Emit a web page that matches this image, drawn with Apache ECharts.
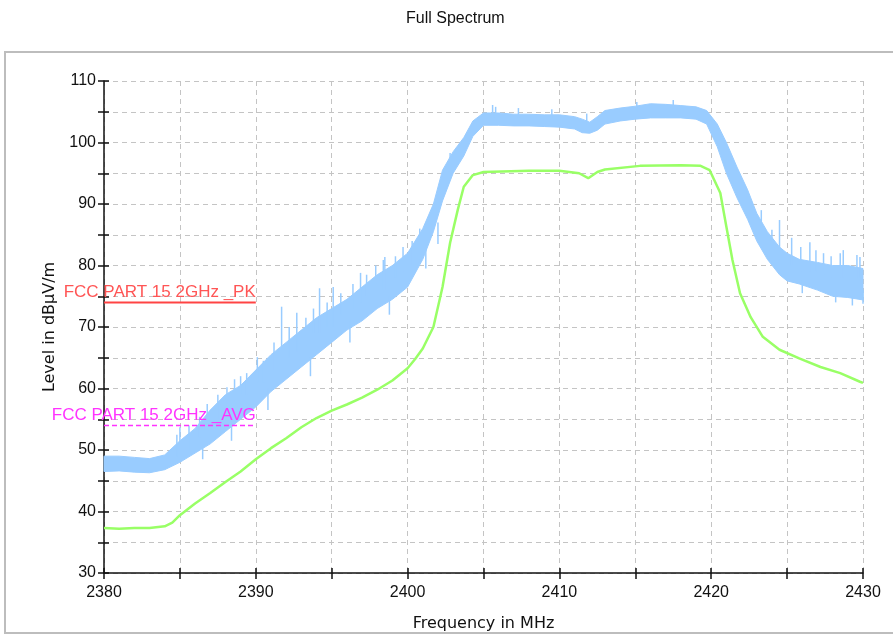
<!DOCTYPE html>
<html>
<head>
<meta charset="utf-8">
<title>Full Spectrum</title>
<script src="https://cdn.jsdelivr.net/npm/echarts@6/dist/echarts.min.js"></script>
<style>
html, body { margin: 0; padding: 0; background: #fff; }
#main { width: 893px; height: 635px; }
</style>
</head>
<body>
<div id="main"></div>
<script>
// peak trace (blue) drawn as a band: lower / upper envelope
var pkFreq = [2380, 2381, 2382, 2383, 2384, 2385, 2386, 2387, 2388, 2389, 2390, 2391, 2392, 2393, 2394, 2395, 2396, 2397, 2398, 2399, 2400, 2401, 2401.7, 2402.3, 2403, 2403.7, 2404.3, 2405, 2406, 2407, 2408, 2409, 2410, 2411, 2411.5, 2412, 2412.5, 2413, 2414, 2415, 2416, 2417, 2418, 2419, 2419.7, 2420.4, 2421, 2421.7, 2422.4, 2423, 2423.7, 2424.5, 2425, 2425.8, 2427, 2428, 2429, 2430];
var pkLow = [46.5, 46.6, 46.4, 46.3, 46.8, 48.0, 49.5, 51.0, 53.0, 55.0, 57.0, 59.5, 61.5, 63.5, 65.5, 67.5, 69.5, 71.0, 73.0, 74.5, 76.5, 81.0, 85.5, 90.5, 95.0, 97.8, 101.0, 102.8, 102.8, 102.7, 102.7, 102.6, 102.5, 102.2, 101.6, 101.5, 102.0, 103.0, 103.5, 103.8, 104.0, 104.0, 104.0, 103.8, 103.0, 99.3, 95.0, 91.0, 87.5, 84.0, 81.0, 78.5, 77.5, 77.0, 76.0, 75.0, 74.8, 74.4];
var pkHigh = [49.0, 49.0, 48.8, 48.6, 49.2, 51.5, 53.5, 56.5, 59.0, 60.5, 63.0, 65.5, 67.5, 69.5, 71.5, 73.0, 74.5, 76.5, 78.5, 80.0, 82.0, 86.0, 90.0, 95.5, 98.5, 100.8, 103.5, 104.8, 104.8, 104.6, 104.6, 104.5, 104.5, 104.2, 103.8, 103.3, 104.2, 105.2, 105.6, 105.9, 106.3, 106.2, 106.0, 105.8, 105.2, 103.0, 100.0, 96.0, 92.3, 88.5, 85.5, 83.0, 82.0, 81.0, 80.5, 80.0, 80.0, 79.5];

// single peak spikes sticking out of the band: frequency, foot (inside band), tip
var spikeFreq = [2384.8, 2385.0, 2385.6, 2386.3, 2386.8, 2387.5, 2388.1, 2388.6, 2389.0, 2389.4, 2390.1, 2390.5, 2391.2, 2391.7, 2392.2, 2392.7, 2393.3, 2393.8, 2394.2, 2394.7, 2395.1, 2395.6, 2396.4, 2396.9, 2397.3, 2397.9, 2398.4, 2398.5, 2399.2, 2399.7, 2400.3, 2400.8, 2402.8, 2405.6, 2405.8, 2407.3, 2409.5, 2411.8, 2415.1, 2417.5, 2423.3, 2424.0, 2424.5, 2425.3, 2425.9, 2426.5, 2426.9, 2427.4, 2427.9, 2428.5, 2428.7, 2429.6, 2429.8,
    2386.5, 2388.4, 2390.8, 2393.6, 2396.2, 2398.8, 2401.2, 2402.0, 2426.0, 2428.2, 2429.3, 2430.0];
var spikeFoot = [49.0, 50.0, 50.0, 52.0, 54.0, 55.0, 57.0, 58.0, 59.0, 59.0, 61.0, 61.0, 63.0, 64.0, 65.0, 66.0, 67.0, 69.0, 69.0, 70.0, 70.0, 72.0, 73.0, 74.0, 75.0, 77.0, 76.0, 76.0, 78.0, 79.0, 80.0, 81.0, 96.0, 104.0, 104.0, 104.0, 104.0, 103.0, 105.0, 105.5, 86.0, 83.0, 81.0, 80.0, 79.0, 79.0, 79.0, 78.5, 78.0, 78.0, 78.0, 78.0, 78.0,
    51.0, 55.0, 60.0, 65.0, 71.0, 75.0, 83.0, 87.0, 77.5, 76.0, 76.0, 76.0];
var spikeTip = [52.5, 53.7, 54.0, 55.4, 57.5, 59.0, 60.2, 61.5, 62.0, 62.5, 65.1, 64.5, 67.5, 73.3, 70.0, 72.3, 71.5, 73.0, 76.3, 74.0, 76.5, 75.5, 77.0, 78.8, 78.5, 80.0, 80.9, 81.4, 81.5, 83.0, 84.0, 86.0, 98.3, 106.1, 105.8, 105.6, 105.4, 104.7, 106.6, 106.9, 89.0, 85.8, 87.4, 84.5, 83.0, 83.8, 82.5, 82.0, 81.5, 82.0, 82.5, 81.7, 81.4,
    48.5, 51.5, 56.5, 62.0, 67.5, 72.0, 79.5, 83.5, 75.5, 74.0, 73.5, 73.8];

// average trace (green)
var avFreq = [2380, 2381, 2382, 2383, 2384, 2384.5, 2385, 2386, 2387, 2388, 2389, 2390, 2391, 2392, 2393, 2394, 2395, 2396, 2397, 2398, 2399, 2400, 2400.5, 2401, 2401.7, 2402.3, 2402.8, 2403.3, 2403.7, 2404.3, 2405, 2408, 2410, 2411.3, 2411.9, 2412.5, 2413, 2415.3, 2418, 2419.3, 2419.9, 2420.6, 2421, 2421.4, 2421.9, 2422.6, 2423.4, 2424.5, 2425.8, 2427.2, 2428.5, 2429.8, 2430];
var avVal = [37.3, 37.2, 37.3, 37.3, 37.6, 38.2, 39.4, 41.3, 43.0, 44.8, 46.5, 48.5, 50.3, 51.9, 53.7, 55.2, 56.4, 57.4, 58.5, 59.8, 61.3, 63.3, 64.8, 66.5, 70.0, 76.5, 83.7, 89.0, 92.8, 94.7, 95.2, 95.4, 95.4, 95.0, 94.2, 95.2, 95.6, 96.2, 96.3, 96.2, 95.5, 91.8, 86.3, 80.9, 75.5, 71.6, 68.4, 66.3, 64.9, 63.5, 62.5, 61.1, 60.9];

// limit lines
var limitFreq = [2380, 2390];
var pkLimit = 74;
var avLimit = 54;
var pkLimitName = 'FCC PART 15 2GHz _PK';
var avLimitName = 'FCC PART 15 2GHz _AVG';

var xTicks = [2380, 2390, 2400, 2410, 2420, 2430];
var yTicks = [30, 40, 50, 60, 70, 80, 90, 100, 110];

var chart = echarts.init(document.getElementById('main'));

var pkColor = '#99ccff';
var fnt = 'Arial, "Liberation Sans", sans-serif';
var fntWide = '"DejaVu Sans", Verdana, sans-serif';
var gridLine = { show: true, lineStyle: { color: '#c4c4c4', type: [5, 4], width: 1 } };

function pairs(xs, ys) {
    return xs.map(function (x, i) { return [x, ys[i]]; });
}

function limitData(v, name) {
    return [
        [limitFreq[0], v],
        {
            value: [limitFreq[1], v],
            label: { show: true, position: 'top', align: 'right', distance: 2, formatter: name }
        }
    ];
}

// whole band as one polygon, points go through the axis scales
function renderBand(params, api) {
    if (params.dataIndex !== 0) return null;
    var pts = [];
    for (var i = 0; i < pkFreq.length; i++) pts.push(api.coord([pkFreq[i], pkHigh[i]]));
    for (var j = pkFreq.length - 1; j >= 0; j--) pts.push(api.coord([pkFreq[j], pkLow[j]]));
    return {
        type: 'polygon',
        shape: { points: pts },
        style: { fill: pkColor, stroke: pkColor, lineWidth: 1 }
    };
}

function renderSpike(params, api) {
    var a = api.coord([api.value(0), api.value(1)]);
    var b = api.coord([api.value(0), api.value(2)]);
    return {
        type: 'line',
        shape: { x1: a[0], y1: a[1], x2: b[0], y2: b[1] },
        style: { stroke: pkColor, lineWidth: 1.5 }
    };
}

var option = {
    backgroundColor: '#fff',
    animation: false,
    title: {
        text: 'Full Spectrum', left: 401, top: 6,
        textStyle: { fontSize: 16, fontWeight: 'normal', color: '#111', fontFamily: fnt }
    },
    graphic: [{
        type: 'rect', z: -10, silent: true,
        shape: { x: 5, y: 52, width: 900, height: 581 },
        style: { fill: 'none', stroke: '#bdbdbd', lineWidth: 2 }
    }],
    grid: { left: 104, top: 81, right: 30, bottom: 62, outerBoundsMode: 'none' },
    xAxis: [{
        type: 'value', min: 2380, max: 2430, interval: 5,
        name: 'Frequency in MHz', nameLocation: 'middle', nameGap: 43,
        nameTextStyle: { fontSize: 16, color: '#111', fontFamily: fntWide },
        axisLine: { lineStyle: { color: '#111', width: 1.5 } },
        axisTick: { length: 6, lineStyle: { color: '#111', width: 1.5 } },
        axisLabel: {
            fontSize: 16, color: '#111', fontFamily: fnt, margin: 12,
            formatter: function (v) { return xTicks.indexOf(v) >= 0 ? String(v) : ''; }
        },
        splitLine: gridLine
    }, {
        type: 'value', min: 2380, max: 2430, interval: 5, position: 'bottom',
        axisLine: { show: false }, axisLabel: { show: false }, splitLine: { show: false },
        axisTick: { inside: true, length: 5, lineStyle: { color: '#111', width: 1.5 } }
    }],
    yAxis: [{
        type: 'value', min: 30, max: 110, interval: 5,
        name: 'Level in dBµV/m', nameLocation: 'middle', nameGap: 46,
        nameTextStyle: { fontSize: 16, color: '#111', fontFamily: fntWide },
        axisLine: { show: true, lineStyle: { color: '#111', width: 1.5 } },
        axisTick: { show: true, length: 6, lineStyle: { color: '#111', width: 1.5 } },
        axisLabel: {
            fontSize: 16, color: '#111', fontFamily: fnt, margin: 8,
            formatter: function (v) { return yTicks.indexOf(v) >= 0 ? String(v) : ''; }
        },
        splitLine: gridLine
    }, {
        type: 'value', min: 30, max: 110, interval: 5, position: 'left',
        axisLine: { show: false }, axisLabel: { show: false }, splitLine: { show: false },
        axisTick: { show: true, inside: true, length: 5, lineStyle: { color: '#111', width: 1.5 } }
    }],
    series: [
        {
            name: 'PK', type: 'custom', renderItem: renderBand, silent: true, z: 2,
            data: pkFreq.map(function (f, i) { return [f, pkLow[i], pkHigh[i]]; }),
            encode: { x: 0, y: [1, 2] }
        },
        {
            name: 'PK spikes', type: 'custom', renderItem: renderSpike, silent: true, z: 2,
            data: spikeFreq.map(function (f, i) { return [f, spikeFoot[i], spikeTip[i]]; }),
            encode: { x: 0, y: [1, 2] }
        },
        {
            name: 'AVG', type: 'line', data: pairs(avFreq, avVal),
            showSymbol: false, silent: true, z: 3,
            lineStyle: { color: '#99ff66', width: 2.5 }
        },
        {
            name: pkLimitName, type: 'line', data: limitData(pkLimit, pkLimitName),
            symbol: 'circle', symbolSize: 0.01, showSymbol: true, silent: true, z: 4,
            itemStyle: { color: '#ff4444' },
            lineStyle: { color: '#ff4444', width: 2 },
            label: { color: '#ff5555', fontSize: 17, fontFamily: fnt }
        },
        {
            name: avLimitName, type: 'line', data: limitData(avLimit, avLimitName),
            symbol: 'circle', symbolSize: 0.01, showSymbol: true, silent: true, z: 4,
            itemStyle: { color: '#ff33ff' },
            lineStyle: { color: '#ff33ff', width: 1.5, type: [5, 3] },
            label: { color: '#ff33ff', fontSize: 17, fontFamily: fnt }
        }
    ]
};

chart.setOption(option);
</script>
</body>
</html>
